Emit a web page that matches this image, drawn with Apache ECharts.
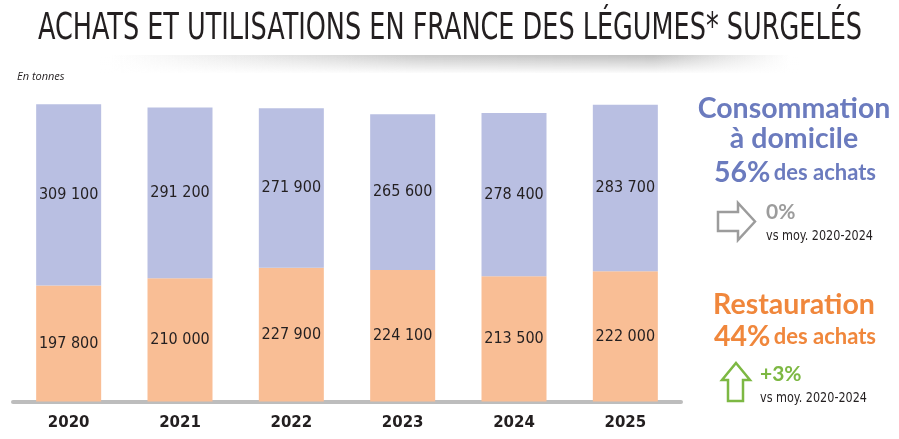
<!DOCTYPE html>
<html lang="fr" style="height: 100%">
<head>
  <meta charset="utf-8">
</head>
<body style="height: 100%; margin: 0; background: #fff">
  <div id="container" style="width: 899px; height: 439px"></div>

  <script type="text/javascript" src="https://cdn.jsdelivr.net/npm/echarts@6/dist/echarts.min.js"></script>

  <script type="text/javascript">
    // Données (en tonnes)
    var years = ['2020', '2021', '2022', '2023', '2024', '2025'];
    var restauration = [197800, 210000, 227900, 224100, 213500, 222000];
    var domicile = [309100, 291200, 271900, 265600, 278400, 283700];

    var BLUE_BAR = '#B9BFE2';
    var ORANGE_BAR = '#F9BE95';
    var BLUE_TXT = '#6B7BBE';
    var ORANGE_TXT = '#F0873C';
    var GREEN = '#7DB843';
    var GREY = '#9C9C9C';
    var NARROW = '"DejaVu Sans Condensed", "Liberation Sans Narrow", sans-serif';

    var TITLE = 'ACHATS ET UTILISATIONS EN FRANCE DES LÉGUMES* SURGELÉS';

    function fmt(v) {
      return String(v).replace(/\B(?=(\d{3})+(?!\d))/g, ' ');
    }

    // largeur réelle du texte pour resserrer le titre (police condensée)
    function textWidth(str, font) {
      var ctx = document.createElement('canvas').getContext('2d');
      ctx.font = font;
      return ctx.measureText(str).width;
    }
    var titleScale = 824 / textWidth(TITLE, '38px ' + NARROW);
    var vsScale = 107 / textWidth('vs moy. 2020-2024', '14px ' + NARROW);

    var dom = document.getElementById('container');
    var myChart = echarts.init(dom, null, { renderer: 'canvas' });

    var valueLabel = {
      show: true,
      position: 'inside',
      color: '#231F20',
      fontFamily: NARROW,
      fontSize: 16,
      formatter: function (p) { return fmt(p.value); }
    };

    function vsText(x, y) {
      return {
        type: 'text',
        x: x,
        y: y,
        scaleX: vsScale,
        style: {
          text: 'vs moy. 2020-2024',
          fontFamily: NARROW,
          fontSize: 14,
          fill: '#231F20',
          verticalAlign: 'middle'
        }
      };
    }

    function headText(str, y, color) {
      return {
        type: 'text',
        x: 794,
        y: y,
        style: {
          text: str,
          fontFamily: 'Lato',
          fontWeight: 'bold',
          fontSize: 28.5,
          fill: color,
          align: 'center',
          verticalAlign: 'middle'
        }
      };
    }

    function shareText(pct, y, color) {
      return {
        type: 'text',
        x: 795,
        y: y,
        style: {
          text: '{big|' + pct + '} {sm|des achats}',
          align: 'center',
          verticalAlign: 'middle',
          rich: {
            big: { fontFamily: 'Lato', fontWeight: 'bold', fontSize: 28.5, fill: color, color: color },
            sm: { fontFamily: 'Lato', fontWeight: 'bold', fontSize: 22, fill: color, color: color }
          }
        }
      };
    }

    var option = {
      animation: false,
      grid: { left: 13, right: 218, top: 73, bottom: 37.5 },
      xAxis: {
        type: 'category',
        data: years,
        offset: 2,
        axisLine: { lineStyle: { color: '#BDBDBD', width: 4 } },
        axisTick: { show: false },
        axisLabel: {
          color: '#231F20',
          fontFamily: 'DejaVu Sans',
          fontWeight: 'bold',
          fontSize: 15,
          margin: 12
        }
      },
      yAxis: {
        type: 'value',
        min: 0,
        max: 560000,
        show: false,
        splitLine: { show: false }
      },
      series: [
        {
          name: 'Restauration',
          type: 'bar',
          stack: 'total',
          barWidth: 65,
          itemStyle: { color: ORANGE_BAR },
          label: valueLabel,
          data: restauration
        },
        {
          name: 'Consommation à domicile',
          type: 'bar',
          stack: 'total',
          barWidth: 65,
          itemStyle: { color: BLUE_BAR },
          label: valueLabel,
          data: domicile
        }
      ],
      graphic: [
        // ombre sous le titre
        {
          type: 'rect',
          shape: { x: 110, y: 55, width: 680, height: 18 },
          style: {
            fill: new echarts.graphic.LinearGradient(0, 0, 1, 0, [
              { offset: 0, color: 'rgba(200,200,200,0)' },
              { offset: 0.45, color: 'rgba(190,190,190,0.8)' },
              { offset: 0.8, color: 'rgba(180,180,180,0.85)' },
              { offset: 1, color: 'rgba(200,200,200,0)' }
            ])
          },
          silent: true
        },
        {
          type: 'rect',
          shape: { x: 100, y: 55, width: 700, height: 19 },
          style: {
            fill: new echarts.graphic.LinearGradient(0, 0, 0, 1, [
              { offset: 0, color: 'rgba(255,255,255,0)' },
              { offset: 1, color: 'rgba(255,255,255,1)' }
            ])
          },
          silent: true
        },
        // titre
        {
          type: 'text',
          x: 450,
          y: 29,
          scaleX: titleScale,
          style: {
            text: TITLE,
            fontFamily: NARROW,
            fontSize: 38,
            fill: '#231F20',
            align: 'center',
            verticalAlign: 'middle'
          }
        },
        {
          type: 'text',
          x: 17,
          y: 77,
          style: {
            text: 'En tonnes',
            fontFamily: 'Open Sans',
            fontStyle: 'italic',
            fontSize: 11,
            fill: '#231F20',
            verticalAlign: 'middle'
          }
        },
        // Consommation à domicile
        headText('Consommation', 109, BLUE_TXT),
        headText('à domicile', 139, BLUE_TXT),
        shareText('56%', 173, BLUE_TXT),
        {
          type: 'polygon',
          shape: {
            points: [[718, 212], [738, 212], [738, 203], [755, 221.5], [738, 240], [738, 231], [718, 231]]
          },
          style: { fill: 'none', stroke: GREY, lineWidth: 2.5 }
        },
        {
          type: 'text',
          x: 766,
          y: 212,
          style: {
            text: '0%',
            fontFamily: 'Lato',
            fontWeight: 'bold',
            fontSize: 21,
            fill: GREY,
            verticalAlign: 'middle'
          }
        },
        vsText(766, 236),
        // Restauration
        headText('Restauration', 305, ORANGE_TXT),
        shareText('44%', 337, ORANGE_TXT),
        {
          type: 'polygon',
          shape: {
            points: [[736, 363], [750, 380], [743, 380], [743, 401], [728, 401], [728, 380], [722, 380]]
          },
          style: { fill: 'none', stroke: GREEN, lineWidth: 2.5 }
        },
        {
          type: 'text',
          x: 760,
          y: 374,
          style: {
            text: '+3%',
            fontFamily: 'Lato',
            fontWeight: 'bold',
            fontSize: 21,
            fill: GREEN,
            verticalAlign: 'middle'
          }
        },
        vsText(760, 398)
      ]
    };

    myChart.setOption(option);
  </script>
</body>
</html>
